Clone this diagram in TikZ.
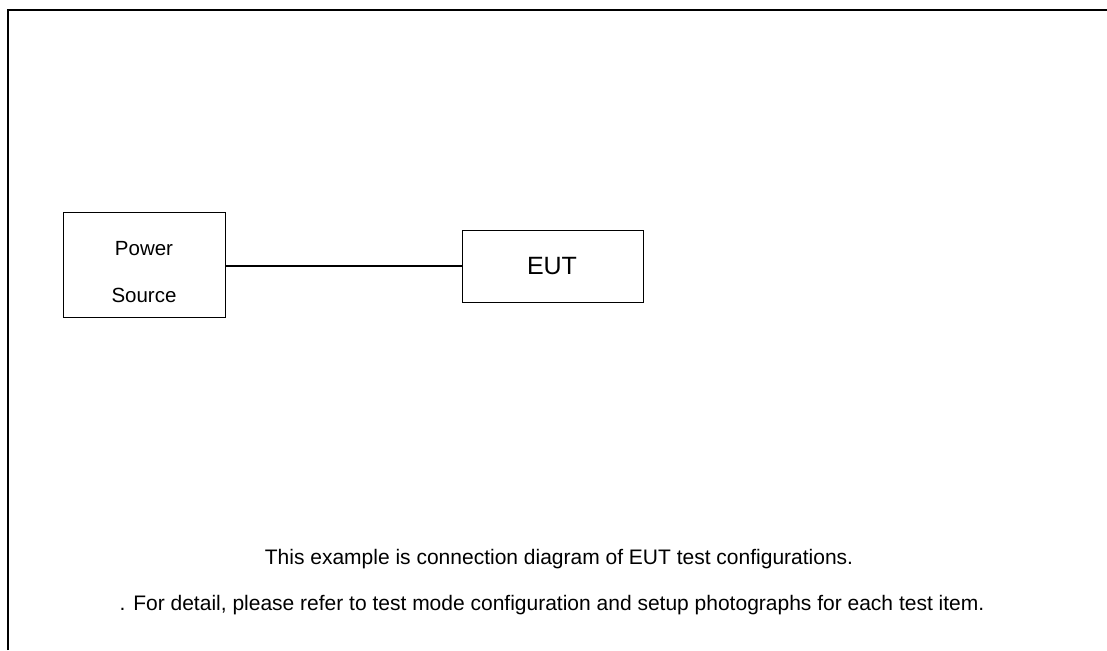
\documentclass[tikz,border=0pt]{standalone}
\usepackage{fontspec}
\setmainfont{Liberation Sans}
\begin{document}
\begin{tikzpicture}[x=1pt,y=-1pt,
  boxnode/.style={draw=black,line width=1pt,inner sep=0pt},
  txt/.style={inner sep=0pt,anchor=base},
  wire/.style={draw=black,line width=1.3pt}]
\useasboundingbox[fill=white] (0,0) rectangle (1107,650);
% frame (top and left only)
\draw[line width=2.2pt] (7.7,650) -- (7.7,10) -- (1107,10);
% boxes
\node[boxnode,minimum width=162pt,minimum height=105pt] (ps) at (144,264.5) {};
\node[txt,font=\fontsize{20.5}{24}\selectfont] (pstop) at (144,255) {Power};
\node[txt,font=\fontsize{20.5}{24}\selectfont] (psbot) at (144,302) {Source};
\node[boxnode,minimum width=181pt,minimum height=72pt] (eut) at (552.5,266) {};
\node[txt,font=\fontsize{25}{30}\selectfont] (euttxt) at (552,274) {EUT};
% connector
\draw[wire] (ps.east |- eut.west) -- (eut.west);
% notes
\node[txt,font=\fontsize{21}{25}\selectfont] (note1) at (559,564) {This example is connection diagram of EUT test configurations.};
\node[txt,font=\fontsize{21}{25}\selectfont] (note2) at (552,610) {. For detail, please refer to test mode configuration and setup photographs for each test item.};
\end{tikzpicture}
\end{document}
